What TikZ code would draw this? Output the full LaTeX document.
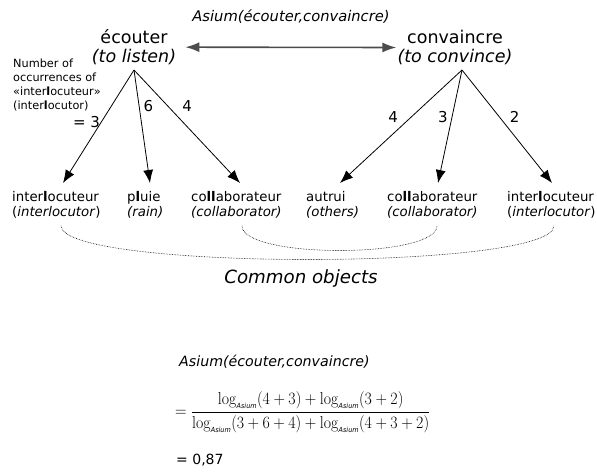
\documentclass[tikz,border=0pt]{standalone}
\usepackage[no-math]{fontspec}
\setmainfont{DejaVu Sans}
\usepackage{amsmath}
\usepackage{graphicx}
\usetikzlibrary{positioning, arrows.meta}
\newcommand{\lasium}{\log_{\mbox{\fontsize{7}{8}\selectfont\itshape Asium}}}

\tikzset{
  head/.style={anchor=south, align=center, inner xsep=1pt, inner ysep=5pt, font=\fontsize{17.5}{19}\selectfont},
  word/.style={anchor=north west, align=left, inner sep=0pt, font=\fontsize{13.3}{15.5}\selectfont},
  count/.style={inner sep=1pt, font=\fontsize{15}{18}\selectfont},
  tree/.style={-{Latex[length=13pt,width=10pt]}, line width=0.8pt},
  common/.style={densely dotted, line width=0.6pt},
}

\begin{document}
\begin{tikzpicture}[x=1pt, y=-1pt]
\useasboundingbox (0,0) rectangle (597,475);

\node (ecouter) [head] at (134,70) {écouter\\\textit{(to listen)}};
\node (convaincre) [head] at (455,70) {convaincre\\\textit{(to convince)}};
\node (asium) [font=\fontsize{14.7}{17}\selectfont\itshape] at (291,17) {Asium(écouter,convaincre)};
\draw[{Latex[length=14pt,width=10pt]}-{Latex[length=14pt,width=10pt]}, line width=1.6pt, black!70, shorten <=8pt] (ecouter.east) -- (convaincre.west);

\node (note) [anchor=north west, align=left, inner sep=0pt, font=\fontsize{11.3}{14}\selectfont] at (13,59) {Number of\\occurrences of\\«inter\textbf{l}ocuteur»\\(inter\textbf{l}ocutor)};

\node (interlocA) [word] at (12,191) {inter\textbf{l}ocuteur\\(\textit{interlocutor})};
\node (pluie) [word] at (127,191) {p\textbf{l}uie\\\textit{(rain)}};
\node (collabA) [word] at (191,191) {co\textbf{ll}aborateur\\\textit{(collaborator)}};
\node (autrui) [word] at (306,191) {autrui\\\textit{(others)}};
\node (collabB) [word] at (387,191) {co\textbf{ll}aborateur\\\textit{(collaborator)}};
\node (interlocB) [word] at (507,191) {inter\textbf{l}ocuteur\\(\textit{interlocutor})};

\draw[tree] (ecouter.south) -- ([shift={(51pt,8pt)}]interlocA.north west) node (cntA) [count, pos=.46, left] {= 3};
\draw[tree] (ecouter.south) -- ([shift={(23pt,8pt)}]pluie.north west) node (cntB) [count, pos=.32, right=3pt] {6};
\draw[tree] (ecouter.south) -- ([shift={(49pt,8pt)}]collabA.north west) node (cntC) [count, pos=.32, right=13pt] {4};
\draw[tree] ([xshift=7pt]convaincre.south) -- ([shift={(34pt,8pt)}]autrui.north west) node (cntD) [count, pos=.416, left=12pt] {4};
\draw[tree] ([xshift=7pt]convaincre.south) -- ([shift={(51pt,8pt)}]collabB.north west) node (cntE) [count, pos=.416, left=3pt] {3};
\draw[tree] ([xshift=7pt]convaincre.south) -- ([shift={(45pt,8pt)}]interlocB.north west) node (cntF) [count, pos=.416, right=9pt] {2};

\draw[common] ([shift={(49pt,-7pt)}]interlocA.south west) .. controls +(0,45) and +(0,45) .. ([shift={(47pt,-7pt)}]interlocB.south west);
\draw[common] ([shift={(51pt,-7pt)}]collabA.south west) .. controls +(0,33) and +(0,33) .. ([shift={(50pt,-7pt)}]collabB.south west);
\node (common) [font=\fontsize{18.2}{22}\selectfont\itshape] at (301,278) {Common objects};

\node (asiumB) [anchor=west, inner sep=0pt, font=\fontsize{14.2}{17}\selectfont\itshape] at (179,362) {Asium(écouter,convaincre)};
\node (ratio) [anchor=west, inner sep=0pt, font=\LARGE] at (175,412) {\scalebox{0.92}[1]{$=\dfrac{\lasium(4+3)+\lasium(3+2)}{\lasium(3+6+4)+\lasium(4+3+2)}$}};
\node (value) [anchor=west, inner sep=0pt, font=\fontsize{14}{17}\selectfont] at (176,460) {= 0,87};
\end{tikzpicture}
\end{document}
